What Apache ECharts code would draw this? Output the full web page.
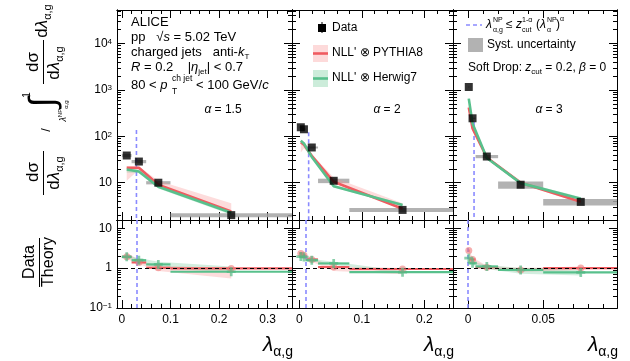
<!DOCTYPE html>
<html>
<head>
<meta charset="utf-8">
<script src="https://cdn.jsdelivr.net/npm/echarts@6/dist/echarts.min.js"></script>
<style>
html, body { margin: 0; padding: 0; background: #fff; }
#chart { width: 630px; height: 361px; }
</style>
</head>
<body>
<div id="chart"></div>
<script>
// ---------- alpha = 1.5 ----------
const x15 = [0.01, 0.035, 0.075, 0.225];
const bins15 = [[0, 0.02], [0.02, 0.05], [0.05, 0.1], [0.1, 0.35]];
const data15 = [38.6, 28.6, 10.0, 2.0];
const syst15 = [0.08, 0.08, 0.08, 0.1];
const pyth15 = [21, 21, 9.1, 2.4];
const pyth15Lo = [11, 19, 8.3, 2.3];
const pyth15Hi = [23, 22.5, 11, 3.6];
const herw15 = [19.2, 17.5, 8.2, 2.25];
const herw15Lo = [16.5, 16, 7.5, 2.05];
const herw15Hi = [20.5, 19, 9, 2.5];
const rPyth15 = [1.92, 1.39, 1.02, 0.98];
const rPyth15Lo = [1.7, 1.25, 0.85, 0.55];
const rPyth15Hi = [2.5, 1.55, 1.15, 1.0];
const rHerw15 = [1.92, 1.58, 1.24, 0.81];
const rHerw15Lo = [1.8, 1.4, 1.0, 0.78];
const rHerw15Hi = [2.1, 1.8, 1.45, 1.1];

// ---------- alpha = 2 ----------
const x2 = [0.0025, 0.0075, 0.02, 0.055, 0.165];
const bins2 = [[0, 0.005], [0.005, 0.01], [0.01, 0.03], [0.03, 0.08], [0.08, 0.25]];
const data2 = [157, 142, 57.5, 11.0, 2.59];
const syst2 = [0.05, 0.05, 0.05, 0.11, 0.1];
const pyth2 = [75, 66, 38, 10.5, 2.75];
const pyth2Lo = [45, 55, 36, 10, 2.6];
const pyth2Hi = [80, 72, 41, 13, 3.6];
const herw2 = [80, 70, 36, 8.4, 3.3];
const herw2Lo = [76, 66, 34, 8, 3.1];
const herw2Hi = [84, 74, 38, 9, 3.5];
const rPyth2 = [2.33, 2.1, 1.65, 1.06, 0.95];
const rPyth2Lo = [1.9, 1.85, 1.45, 0.85, 0.7];
const rPyth2Hi = [2.6, 2.3, 1.8, 1.1, 1.0];
const rHerw2 = [1.95, 1.9, 1.58, 1.31, 0.79];
const rHerw2Lo = [1.85, 1.8, 1.5, 1.2, 0.72];
const rHerw2Hi = [2.05, 2.0, 1.7, 1.45, 0.85];

// ---------- alpha = 3 ----------
const x3 = [0.0005, 0.003, 0.0125, 0.035, 0.075];
const bins3 = [[0, 0.001], [0.001, 0.005], [0.005, 0.02], [0.02, 0.05], [0.05, 0.1]];
const data3 = [1160, 245, 36.7, 9.05, 3.86];
const syst3 = [0.03, 0.04, 0.08, 0.18, 0.16];
const pyth3 = [420, 148, 35, 10, 3.9];
const pyth3Lo = [380, 130, 33, 9.5, 3.6];
const pyth3Hi = [460, 160, 37, 11, 4.3];
const herw3 = [650, 190, 34, 9.8, 4.5];
const herw3Lo = [600, 175, 32, 9.2, 4.2];
const herw3Hi = [700, 205, 36, 10.5, 4.9];
const rPyth3 = [2.75, 1.65, 1.05, 0.9, 1.0];
const rPyth3Lo = [2.5, 1.45, 0.95, 0.8, 0.9];
const rPyth3Hi = [3.0, 1.85, 1.15, 1.0, 1.1];
const rHerw3 = [1.78, 1.33, 1.1, 0.9, 0.78];
const rHerw3Lo = [1.65, 1.2, 0.95, 0.72, 0.65];
const rHerw3Hi = [1.9, 1.45, 1.2, 1.0, 0.9];

// non-perturbative cut (blue dashed line) and where it starts in the upper pad
const cutX = [0.03, 0.015, 0.004];
const cutTop = [137, 123, 205];

// axis tick labels
const xMajor = [[0, 0.1, 0.2, 0.3], [0, 0.1, 0.2], [0, 0.05]];
const yMajorTop = [10, 100, 1000, 10000];
const yMajorRatio = [0.1, 1, 10];

const FONT = '"Liberation Sans", Arial, sans-serif';
const RED = '#ef5b60';
const GREEN = '#58c08c';
const PINK = 'rgba(248,150,150,0.33)';
const MINT = 'rgba(110,200,150,0.30)';
const GRAY = 'rgba(165,165,165,0.85)';

const sets = [
  {x: x15, bins: bins15, data: data15, syst: syst15, pyth: pyth15, pythLo: pyth15Lo, pythHi: pyth15Hi,
   herw: herw15, herwLo: herw15Lo, herwHi: herw15Hi, rP: rPyth15, rPLo: rPyth15Lo, rPHi: rPyth15Hi,
   rH: rHerw15, rHLo: rHerw15Lo, rHHi: rHerw15Hi},
  {x: x2, bins: bins2, data: data2, syst: syst2, pyth: pyth2, pythLo: pyth2Lo, pythHi: pyth2Hi,
   herw: herw2, herwLo: herw2Lo, herwHi: herw2Hi, rP: rPyth2, rPLo: rPyth2Lo, rPHi: rPyth2Hi,
   rH: rHerw2, rHLo: rHerw2Lo, rHHi: rHerw2Hi},
  {x: x3, bins: bins3, data: data3, syst: syst3, pyth: pyth3, pythLo: pyth3Lo, pythHi: pyth3Hi,
   herw: herw3, herwLo: herw3Lo, herwHi: herw3Hi, rP: rPyth3, rPLo: rPyth3Lo, rPHi: rPyth3Hi,
   rH: rHerw3, rHLo: rHerw3Lo, rHHi: rHerw3Hi}
];

// layout
const cols = [{left: 117, width: 175}, {left: 292, width: 161}, {left: 453, width: 164}];
const xRange = [[-0.01, 0.35], [-0.0116, 0.2456], [-0.01, 0.0991]];
const yTop = [1.57, 53000];
const yRatio = [0.1, 16.1];

// minor ticks (axis decoration only)
const xMinorStep = [0.02, 0.02, 0.01];
const xMinor = xMinorStep.map(function (s, p) {
  const out = [];
  for (let k = 1; k * s < xRange[p][1]; k++) {
    const v = +(k * s).toFixed(4);
    if (xMajor[p].indexOf(v) < 0) out.push(v);
  }
  return out;
});
function logMinor(lo, hi) {
  const out = [];
  for (let e = -2; e <= 5; e++) {
    for (let m = 2; m <= 9; m++) {
      const v = m * Math.pow(10, e);
      if (v > lo && v < hi) out.push(v);
    }
  }
  return out;
}
const yMinorTop = logMinor(yTop[0], yTop[1]);
const yMinorRatio = logMinor(yRatio[0], yRatio[1]);

const richBase = {
  sup: {fontSize: 8, fontFamily: FONT, verticalAlign: 'top', lineHeight: 10, color: '#000'},
  sub: {fontSize: 8, fontFamily: FONT, verticalAlign: 'bottom', lineHeight: 10, color: '#000'},
  i: {fontStyle: 'italic', fontFamily: FONT, color: '#000'}
};

function powLabel(v) {
  const e = Math.round(Math.log10(v));
  if (e === 0) return '1';
  if (e === 1) return '10';
  return '10{sup|' + (e < 0 ? '\u22121' : e) + '}';
}
function xLabel(v) {
  return v === 0 ? '0' : String(+v.toFixed(3));
}

const grids = [];
cols.forEach(function (c) { grids.push({left: c.left, width: c.width, top: 10, height: 210}); });
cols.forEach(function (c) { grids.push({left: c.left, width: c.width, top: 220, height: 88}); });
grids.forEach(function (g) { g.outerBoundsMode = 'none'; g.containLabel = false; });

const xAxes = [];
const yAxes = [];
for (let gi = 0; gi < 6; gi++) {
  const p = gi % 3;
  const ratio = gi >= 3;
  const line = {show: true, onZero: false, lineStyle: {color: '#000', width: 1}};
  const bx = {type: 'value', gridIndex: gi, min: xRange[p][0], max: xRange[p][1],
    splitLine: {show: false}, axisLine: line};
  const majX = {show: true, inside: true, length: 8, customValues: xMajor[p], lineStyle: {color: '#000'}};
  const minX = {show: true, inside: true, length: 4, customValues: xMinor[p], lineStyle: {color: '#000'}};
  const lab = ratio
    ? {show: true, customValues: xMajor[p], formatter: xLabel, color: '#000', fontSize: 12, fontFamily: FONT, margin: 6}
    : {show: false};
  xAxes.push(Object.assign({}, bx, {position: 'bottom', axisTick: majX, axisLabel: lab}));
  xAxes.push(Object.assign({}, bx, {position: 'top', axisTick: majX, axisLabel: {show: false}}));
  xAxes.push(Object.assign({}, bx, {position: 'bottom', axisTick: minX, axisLabel: {show: false}}));
  xAxes.push(Object.assign({}, bx, {position: 'top', axisTick: minX, axisLabel: {show: false}}));

  const yr = ratio ? yRatio : yTop;
  const yMaj = ratio ? yMajorRatio : yMajorTop;
  const yMin = ratio ? yMinorRatio : yMinorTop;
  const by = {type: 'log', logBase: 10, gridIndex: gi, min: yr[0], max: yr[1],
    splitLine: {show: false}, axisLine: line};
  const majY = {show: true, inside: true, length: 8, customValues: yMaj, lineStyle: {color: '#000'}};
  const minY = {show: true, inside: true, length: 4, customValues: yMin, lineStyle: {color: '#000'}};
  const labY = p === 0
    ? {show: true, customValues: yMaj, formatter: powLabel, color: '#000', fontSize: 12, fontFamily: FONT, margin: 5, rich: richBase}
    : {show: false};
  yAxes.push(Object.assign({}, by, {position: 'left', axisTick: majY, axisLabel: labY}));
  yAxes.push(Object.assign({}, by, {position: 'right', axisTick: majY, axisLabel: {show: false}}));
  yAxes.push(Object.assign({}, by, {position: 'left', axisTick: minY, axisLabel: {show: false}}));
  yAxes.push(Object.assign({}, by, {position: 'right', axisTick: minY, axisLabel: {show: false}}));
}

function band(gi, xs, lo, hi, color) {
  return {
    type: 'custom', xAxisIndex: gi * 4, yAxisIndex: gi * 4, silent: true, z: 1,
    data: [[xs[0], lo[0]]],
    renderItem: function (params, api) {
      const pts = [];
      for (let i = 0; i < xs.length; i++) pts.push(api.coord([xs[i], hi[i]]));
      for (let i = xs.length - 1; i >= 0; i--) pts.push(api.coord([xs[i], lo[i]]));
      return {type: 'polygon', shape: {points: pts}, style: {fill: color}};
    }
  };
}

function systBoxes(gi, s) {
  return {
    type: 'custom', xAxisIndex: gi * 4, yAxisIndex: gi * 4, silent: true, z: 1,
    data: s.bins.map(function (b, i) { return [b[0], b[1], s.data[i], s.syst[i]]; }),
    encode: {x: [0, 1], y: 2},
    renderItem: function (params, api) {
      const v = api.value(2), e = api.value(3);
      const a = api.coord([api.value(0), v * (1 + e)]);
      const b = api.coord([api.value(1), v * (1 - e)]);
      const cs = params.coordSys;
      const r = echarts.graphic.clipRectByRect(
        {x: a[0], y: a[1], width: b[0] - a[0], height: b[1] - a[1]},
        {x: cs.x, y: cs.y, width: cs.width, height: cs.height});
      return r && {type: 'rect', shape: r, style: {fill: GRAY}};
    }
  };
}

function steps(gi, bins, vals, color) {
  return {
    type: 'custom', xAxisIndex: gi * 4, yAxisIndex: gi * 4, silent: true, z: 3,
    data: bins.map(function (b, i) { return [b[0], b[1], vals[i]]; }),
    encode: {x: [0, 1], y: 2},
    renderItem: function (params, api) {
      const a = api.coord([api.value(0), api.value(2)]);
      const b = api.coord([api.value(1), api.value(2)]);
      const cs = params.coordSys;
      const x1 = Math.max(a[0], cs.x), x2 = Math.min(b[0], cs.x + cs.width);
      return {type: 'line', shape: {x1: x1, y1: a[1], x2: x2, y2: a[1]}, style: {stroke: color, lineWidth: 2.2}};
    }
  };
}

function pairs(xs, ys) { return xs.map(function (x, i) { return [x, ys[i]]; }); }

const PLUS = 'path://M3.5,0H6.5V3.5H10V6.5H6.5V10H3.5V6.5H0V3.5H3.5Z';

const series = [];
sets.forEach(function (s, p) {
  const gt = p, gr = p + 3;
  // upper pad
  series.push(systBoxes(gt, s));
  series.push(band(gt, s.x, s.pythLo, s.pythHi, PINK));
  series.push(band(gt, s.x, s.herwLo, s.herwHi, MINT));
  series.push({type: 'line', xAxisIndex: gt * 4, yAxisIndex: gt * 4, data: pairs(s.x, s.pyth),
    showSymbol: false, lineStyle: {color: RED, width: 2.6}, z: 3, silent: true});
  series.push({type: 'line', xAxisIndex: gt * 4, yAxisIndex: gt * 4, data: pairs(s.x, s.herw),
    showSymbol: false, lineStyle: {color: GREEN, width: 2.6}, z: 4, silent: true});
  series.push({type: 'line', xAxisIndex: gt * 4, yAxisIndex: gt * 4,
    data: [[cutX[p], cutTop[p]], [cutX[p], yTop[0]]],
    showSymbol: false, lineStyle: {color: '#8a8aff', width: 1.6, type: [4, 3]}, z: 2, silent: true});
  series.push({type: 'scatter', xAxisIndex: gt * 4, yAxisIndex: gt * 4, data: pairs(s.x, s.data),
    symbol: 'rect', symbolSize: 8, itemStyle: {color: '#000'}, z: 6, silent: true});
  // ratio pad
  series.push(band(gr, s.x, s.rPLo, s.rPHi, PINK));
  series.push(band(gr, s.x, s.rHLo, s.rHHi, MINT));
  series.push(steps(gr, s.bins, s.rP, RED));
  series.push(steps(gr, s.bins, s.rH, GREEN));
  series.push({type: 'scatter', xAxisIndex: gr * 4, yAxisIndex: gr * 4, data: pairs(s.x, s.rP),
    symbol: 'circle', symbolSize: 7, itemStyle: {color: 'rgba(240,120,120,0.75)'}, z: 5, silent: true,
    markLine: {silent: true, symbol: 'none', label: {show: false}, animation: false,
      data: [
        {yAxis: 1, lineStyle: {color: '#000', width: 1, type: [4, 3]}},
        {xAxis: cutX[p], lineStyle: {color: '#8a8aff', width: 1.6, type: [4, 3]}}
      ]}});
  series.push({type: 'scatter', xAxisIndex: gr * 4, yAxisIndex: gr * 4, data: pairs(s.x, s.rH),
    symbol: PLUS, symbolSize: 9, itemStyle: {color: 'rgba(80,185,130,0.85)'}, z: 6, silent: true});
});

// ---------- text ----------
function T(x, y, text, size, extra) {
  return Object.assign({type: 'text', x: x, y: y, silent: true, z: 100,
    style: Object.assign({text: text, fontSize: size, fontFamily: FONT, fill: '#000',
      verticalAlign: 'middle', align: 'left',
      rich: {
        i: {fontStyle: 'italic', fontSize: size, fontFamily: FONT},
        sub: {fontSize: Math.round(size * 0.65), fontFamily: FONT, verticalAlign: 'bottom', lineHeight: size * 1.3},
        sup: {fontSize: Math.round(size * 0.65), fontFamily: FONT, verticalAlign: 'top', lineHeight: size * 1.3},
        n: {fontSize: size, fontFamily: FONT, lineHeight: size * 1.3}
      }}, extra || {})}, {});
}
function L(x1, y1, x2, y2, color, w, dash) {
  return {type: 'line', silent: true, z: 100, shape: {x1: x1, y1: y1, x2: x2, y2: y2},
    style: {stroke: color, lineWidth: w, lineDash: dash || null}};
}
const R90 = Math.PI / 2;
function RT(x, y, text, size) {
  const t = T(x, y, text, size, {align: 'center'});
  t.rotation = R90;
  return t;
}

const graphics = [
  // panel 1 header
  T(131, 22, 'ALICE', 13),
  T(131, 37, '{n|pp   \u221a}{i|s}{n| = 5.02 TeV}', 13),
  T(131, 52, '{n|charged jets   anti-}{i|k}{sub|T}', 13),
  T(131, 67, '{i|R}{n| = 0.2    |}{i|\u03b7}{sub|jet}{n|| < 0.7}', 13),
  T(131, 85, '80 < {i|p}', 13),
  T(172, 79, 'ch jet', 8.5),
  T(172, 92, 'T', 8.5),
  T(196, 85, '< 100 GeV/{i|c}', 13),
  T(223, 110, '{i|\u03b1}{n| = 1.5}', 12, {align: 'center'}),
  T(387, 110, '{i|\u03b1}{n| = 2}', 12, {align: 'center'}),
  T(549, 110, '{i|\u03b1}{n| = 3}', 12, {align: 'center'}),
  // legend panel 2
  L(322, 22, 322, 33, '#000', 1),
  {type: 'rect', silent: true, z: 100, shape: {x: 318, y: 24, width: 8, height: 8}, style: {fill: '#000'}},
  T(332, 28, 'Data', 12),
  {type: 'rect', silent: true, z: 100, shape: {x: 313, y: 45, width: 15, height: 17}, style: {fill: 'rgba(248,150,150,0.35)'}},
  L(313, 53.5, 328, 53.5, RED, 2.6),
  T(332, 53, "NLL' \u2297 PYTHIA8", 12),
  {type: 'rect', silent: true, z: 100, shape: {x: 313, y: 70, width: 15, height: 17}, style: {fill: 'rgba(110,200,150,0.35)'}},
  L(313, 78.5, 328, 78.5, GREEN, 2.6),
  T(332, 78, "NLL' \u2297 Herwig7", 12),
  // legend panel 3
  L(466, 25, 482, 25, '#8a8aff', 1.6, [4, 3]),
  T(486, 25, '{i|\u03bb}', 12),
  T(493, 20, 'NP', 7),
  T(493, 30, '\u03b1,g', 7),
  T(506, 25, '\u2264 {i|z}', 12),
  T(522, 20, '1-\u03b1', 7),
  T(522, 30, 'cut', 7),
  T(536, 25, '({i|\u03bb}', 12),
  T(547, 20, 'NP', 7),
  T(547, 30, '\u03b1', 7),
  T(556, 25, ')', 12),
  T(560, 19, '\u03b1', 7),
  {type: 'rect', silent: true, z: 100, shape: {x: 468, y: 38, width: 15, height: 14}, style: {fill: GRAY}},
  T(487, 45, 'Syst. uncertainty', 12),
  T(468, 68, '{n|Soft Drop: }{i|z}{sub|cut}{n| = 0.2, }{i|\u03b2}{n| = 0}', 12),
  // x axis titles
  T(293, 345, '{i|\u03bb}{sub|\u03b1,g}', 21, {align: 'right'}),
  T(454, 345, '{i|\u03bb}{sub|\u03b1,g}', 21, {align: 'right'}),
  T(618, 345, '{i|\u03bb}{sub|\u03b1,g}', 21, {align: 'right'}),
  // y title upper pad
  RT(33, 172, 'd\u03c3', 17),
  L(43.5, 151, 43.5, 195, '#000', 1),
  RT(54, 173, 'd{i|\u03bb}{sub|\u03b1,g}', 17),
  RT(46, 130, '/', 13),
  RT(44, 102, '\u222b', 36),
  RT(27, 95, '1', 10),
  RT(63, 111, '{i|\u03bb}{sup|NP}{sub|\u03b1,g}', 9),
  RT(33, 62, 'd\u03c3', 17),
  L(43.5, 40, 43.5, 84, '#000', 1),
  RT(54, 63, 'd{i|\u03bb}{sub|\u03b1,g}', 17),
  RT(42, 21, 'd{i|\u03bb}{sub|\u03b1,g}', 17),
  // y title ratio pad
  RT(30, 262, 'Data', 16),
  L(39.5, 238, 39.5, 287, '#000', 1),
  RT(49, 262, 'Theory', 16)
];

const chart = echarts.init(document.getElementById('chart'));
chart.setOption({
  animation: false,
  backgroundColor: '#fff',
  grid: grids,
  xAxis: xAxes,
  yAxis: yAxes,
  series: series,
  graphic: graphics
});
</script>
</body>
</html>
